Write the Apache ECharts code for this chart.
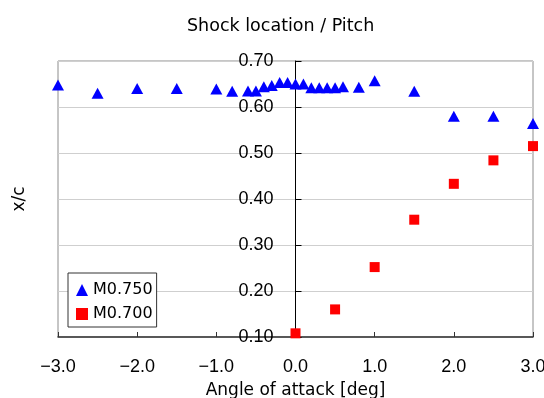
<!DOCTYPE html>
<html>
<head>
<meta charset="utf-8">
<script src="https://cdn.jsdelivr.net/npm/echarts@6/dist/echarts.min.js"></script>
<style>
  html, body { margin: 0; padding: 0; background: #fff; }
  #chart { width: 544px; height: 398px; }
</style>
</head>
<body>
<div id="chart"></div>
<script>
// Shock location (x/c) versus angle of attack for two Mach numbers
const angleM750 = [-3.0, -2.5, -2.0, -1.5, -1.0, -0.8, -0.6, -0.5, -0.4, -0.3, -0.2, -0.1,
                   0.0, 0.1, 0.2, 0.3, 0.4, 0.5, 0.6, 0.8, 1.0, 1.5, 2.0, 2.5, 3.0];
const xcM750 = [0.648, 0.630, 0.640, 0.640, 0.639, 0.634, 0.635, 0.635, 0.644, 0.647, 0.653, 0.653,
                0.650, 0.650, 0.642, 0.642, 0.642, 0.642, 0.644, 0.643, 0.657, 0.634, 0.580, 0.580, 0.564];

const angleM700 = [0.0, 0.5, 1.0, 1.5, 2.0, 2.5, 3.0];
const xcM700 = [0.108, 0.160, 0.252, 0.355, 0.433, 0.484, 0.515];

const seriesNames = ['M0.750', 'M0.700'];
const titleText = 'Shock location / Pitch';
const xAxisTitle = 'Angle of attack [deg]';
const yAxisTitle = 'x/c';

const TEXT_FONT = '"DejaVu Sans", sans-serif';
const NUM_FONT = '"Liberation Sans", Arial, sans-serif';

const GRID = { left: 58, right: 11, top: 61, bottom: 61 };
const CHART_W = 544;
// horizontal pixel distance from the plot's left edge to angle = 0
const zeroShift = (CHART_W - GRID.left - GRID.right) / 2;

const pairs = (xs, ys) => xs.map((x, i) => [x, ys[i]]);

const chart = echarts.init(document.getElementById('chart'), null, { renderer: 'canvas' });

chart.setOption({
  animation: false,
  backgroundColor: '#ffffff',
  textStyle: { fontFamily: TEXT_FONT },
  title: {
    text: titleText,
    left: 182,
    top: 12,
    textStyle: { fontFamily: TEXT_FONT, fontSize: 17.5, fontWeight: 'normal', color: '#000' }
  },
  grid: {
    left: GRID.left, right: GRID.right, top: GRID.top, bottom: GRID.bottom,
    containLabel: false,
    outerBoundsMode: 'none',
    show: true,
    borderColor: '#8c8c8c',
    borderWidth: 1,
    backgroundColor: '#ffffff'
  },
  legend: {
    orient: 'vertical',
    left: 68,
    top: 273,
    padding: [9, 4, 5, 8],
    itemGap: 8,
    itemWidth: 12,
    itemHeight: 12,
    backgroundColor: '#ffffff',
    borderColor: '#333333',
    borderWidth: 1,
    borderRadius: 0,
    textStyle: { fontFamily: TEXT_FONT, fontSize: 16, color: '#000' },
    data: [
      { name: seriesNames[0], icon: 'triangle' },
      { name: seriesNames[1], icon: 'rect' }
    ]
  },
  xAxis: {
    type: 'value',
    min: -3, max: 3, interval: 1,
    name: xAxisTitle,
    nameLocation: 'middle',
    nameGap: 45,
    nameTextStyle: { fontFamily: TEXT_FONT, fontSize: 17, color: '#000' },
    axisLine: { onZero: false, lineStyle: { color: '#333333', width: 1.5 } },
    axisTick: { inside: true, length: 5, lineStyle: { color: '#333333' } },
    splitLine: { show: false },
    axisLabel: {
      fontFamily: NUM_FONT, fontSize: 18, color: '#000', margin: 21,
      formatter: v => v.toFixed(1).replace('-', '\u2212')
    }
  },
  yAxis: {
    type: 'value',
    min: 0.1, max: 0.7, interval: 0.1,
    position: 'left',
    offset: -zeroShift,
    name: yAxisTitle,
    nameLocation: 'middle',
    nameRotate: 90,
    nameGap: 267,
    nameTextStyle: { fontFamily: TEXT_FONT, fontSize: 17, color: '#000' },
    axisLine: { show: true, onZero: false, lineStyle: { color: '#000', width: 1 } },
    axisTick: { show: true, inside: true, length: 6, lineStyle: { color: '#000' } },
    splitLine: { show: true, lineStyle: { color: '#cfcfcf', width: 1 } },
    axisLabel: {
      fontFamily: NUM_FONT, fontSize: 18, color: '#000', margin: 22,
      formatter: v => v.toFixed(2)
    }
  },
  series: [
    {
      name: seriesNames[0],
      type: 'scatter',
      symbol: 'triangle',
      symbolSize: [12, 11],
      clip: false,
      itemStyle: { color: '#0000ff', opacity: 1 },
      data: pairs(angleM750, xcM750)
    },
    {
      name: seriesNames[1],
      type: 'scatter',
      symbol: 'rect',
      symbolSize: 10,
      clip: false,
      itemStyle: { color: '#ff0000', opacity: 1 },
      data: pairs(angleM700, xcM700)
    }
  ]
});
</script>
</body>
</html>
